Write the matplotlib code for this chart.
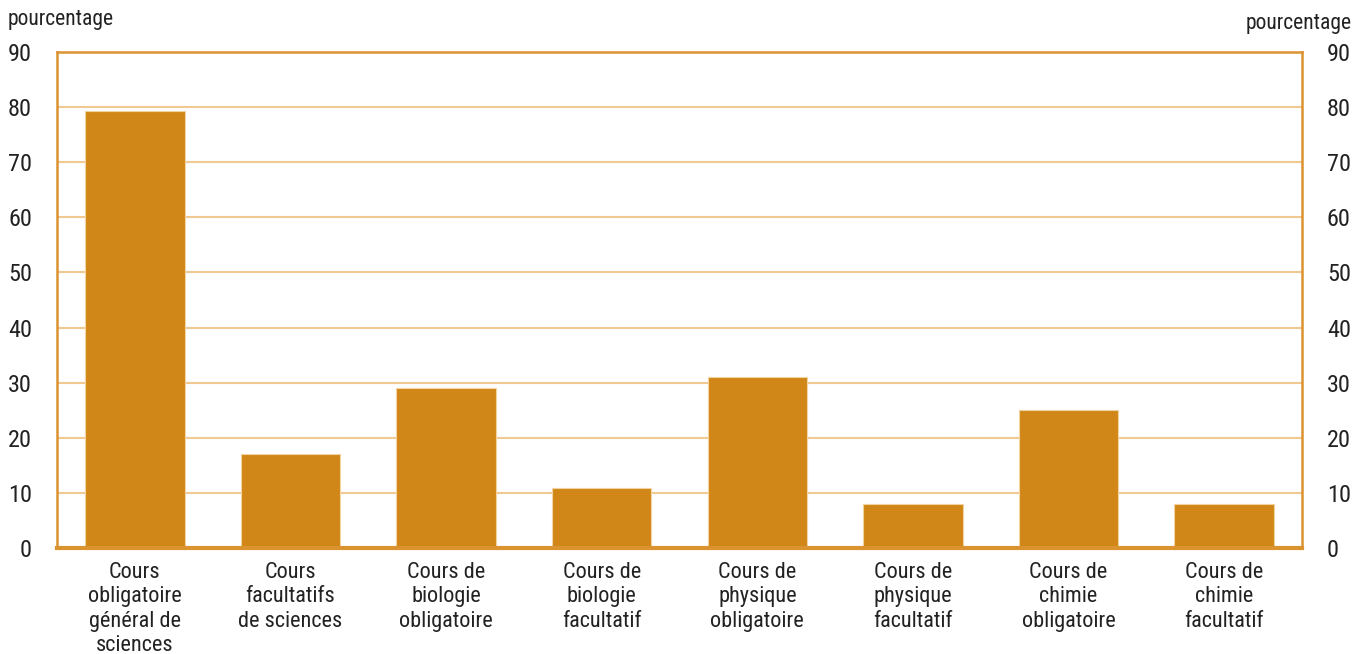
import matplotlib
matplotlib.use('Agg')
import matplotlib.pyplot as plt
import numpy as np

categories = [
    'Cours\nobligatoire\ngénéral de\nsciences',
    'Cours\nfacultatifs\nde sciences',
    'Cours de\nbiologie\nobligatoire',
    'Cours de\nbiologie\nfacultatif',
    'Cours de\nphysique\nobligatoire',
    'Cours de\nphysique\nfacultatif',
    'Cours de\nchimie\nobligatoire',
    'Cours de\nchimie\nfacultatif',
]
values = [79.3, 17.0, 29.0, 10.8, 31.1, 7.9, 25.0, 7.9]
yticks = list(range(0, 100, 10))

bar_color = '#D08718'
grid_color = '#F0C993'
frame_color = '#DB9330'
text_color = '#222222'

plt.rcParams['font.family'] = ['Roboto Condensed', 'Liberation Sans Narrow',
                               'Roboto', 'DejaVu Sans']

fig = plt.figure(figsize=(13.66, 6.54), dpi=100)
ax = fig.add_axes([57 / 1366, 106 / 654, 1245 / 1366, 496 / 654])

x = np.arange(len(categories))
ax.bar(x, values, width=0.64, color=bar_color, edgecolor='#F3D3A0',
       linewidth=0.8, zorder=3)

ax.set_xlim(-0.5, len(categories) - 0.5)
ax.set_ylim(0, 90)
ax.set_yticks(yticks)
ax.set_yticklabels([str(t) for t in yticks])
ax.set_xticks(x)
ax.set_xticklabels(categories, linespacing=1.22)

for t in yticks[1:-1]:
    ax.axhline(t, color=grid_color, linewidth=1.5, zorder=1)

for side in ['left', 'right', 'top']:
    ax.spines[side].set_color(frame_color)
    ax.spines[side].set_linewidth(1.8)
ax.spines['bottom'].set_color(frame_color)
ax.spines['bottom'].set_linewidth(3)
ax.spines['bottom'].set_zorder(4)

ax.tick_params(axis='y', length=0, pad=18, labelsize=17.5, colors=text_color,
               labelleft=True, labelright=True)
ax.tick_params(axis='x', length=0, pad=10, labelsize=16, colors=text_color)

fig.text(8 / 1366, 1 - 20 / 654, 'pourcentage', ha='left', va='center',
         fontsize=15.5, color=text_color)
fig.text(1352 / 1366, 1 - 24 / 654, 'pourcentage', ha='right', va='center',
         fontsize=15.5, color=text_color)

fig.savefig('out.png', dpi=100, facecolor='white')
